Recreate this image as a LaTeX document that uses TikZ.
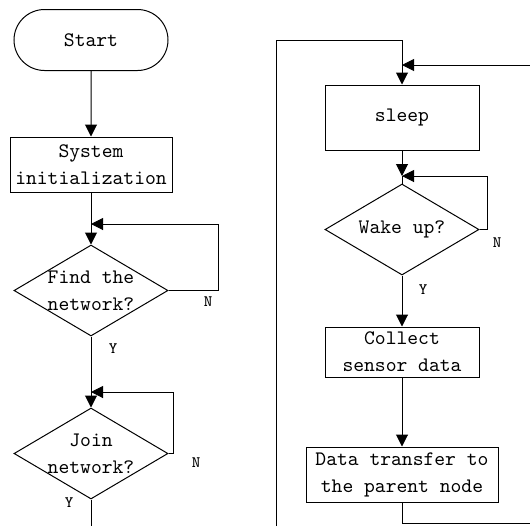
\documentclass[tikz,border=0pt]{standalone}
\usepackage{tikz}
\usetikzlibrary{arrows.meta,shapes.geometric,shapes.misc}

\begin{document}
\begin{tikzpicture}[x=0.5pt,y=-0.5pt,line width=0.5pt,font=\ttfamily\fontsize{10.3}{13.5}\selectfont,arr/.style={-{Triangle[length=6pt,width=6pt]}},box/.style n args={2}{rectangle,draw,minimum width=#1pt,minimum height=#2pt,inner sep=0pt,align=center},dec/.style={diamond,draw,minimum width=77pt,minimum height=45.5pt,inner sep=0pt},yn/.style={font=\ttfamily\fontsize{8}{9}\selectfont,inner sep=0pt}]
\useasboundingbox (0,0) rectangle (530,526);
% left column
\node[rounded rectangle,draw,minimum width=77pt,minimum height=30.5pt,inner sep=0pt](start) at(91,40) {Start};
\node[box={81}{27.5}](init) at(91,164.5) {System\\initialization};
\node[dec,label={[align=center]center:Find the\\network?}](find) at(91,290.5) {};
\node[dec,label={[align=center]center:Join\\network?}](join) at(91,453.5) {};
\coordinate (fin) at (91,224);
\coordinate (jin) at (91,392);
\coordinate (lend) at (91,526);
\draw[arr] (start) -- (init);
\draw[arr] (init) -- (find);
\draw[arr] (find.east) -- ++(50,0) |- (fin);
\draw[arr] (find) -- (join);
\draw[arr] (join.east) -- ++(5,0) |- (jin);
\draw (join) -- (lend);
\node[yn](nfind) at(208,302) {N};
\node[yn](yfind) at(113,349) {Y};
\node[yn](njoin) at(196,463) {N};
\node[yn](yjoin) at(69,503) {Y};
% right column
\node[box={77}{32.5}](sleep) at(402,117.5) {sleep};
\node[dec,label={[align=center]center:Wake up?}](wake) at(402,229.5) {};
\node[box={77}{25}](collect) at(402,352) {Collect\\sensor data};
\node[box={96}{27.5}](send) at(402,474.5) {Data transfer to\\the parent node};
\coordinate (sin) at (402,65);
\coordinate (win) at (402,176);
\coordinate (rin) at (530,65);
\coordinate (rout) at (530,523);
\coordinate (back) at (276,526);
\draw[arr] (back) -- (276,40) -| (sleep);
\draw[arr] (rin) -- (sin);
\draw[arr] (sleep) -- (win);
\draw (win) -- (wake.north);
\draw[arr] (wake.east) -- ++(8,0) |- (win);
\draw[arr] (wake) -- (collect);
\draw[arr] (collect) -- (send);
\draw (send.south) |- (rout);
\node[yn](nwake) at(497,243) {N};
\node[yn](ywake) at(423,290) {Y};
\end{tikzpicture}
\end{document}
